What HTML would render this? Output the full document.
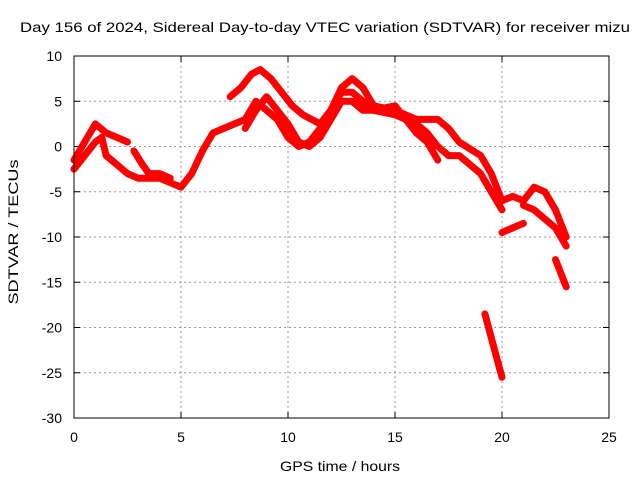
<!DOCTYPE html>
<html><head><meta charset="utf-8"><style>
html,body{margin:0;padding:0;background:#fff}
svg{display:block;font-family:"Liberation Sans",sans-serif}
</style></head><body>
<svg id="chart" width="640" height="480" viewBox="0 0 640 480">
<text x="20" y="32" font-size="14" textLength="610" lengthAdjust="spacingAndGlyphs">Day 156 of 2024, Sidereal Day-to-day VTEC variation (SDTVAR) for receiver mizu</text>
<text x="280" y="471" font-size="14" textLength="120" lengthAdjust="spacingAndGlyphs">GPS time / hours</text>
<text transform="translate(18,232) rotate(-90)" text-anchor="middle" font-size="14" textLength="145" lengthAdjust="spacingAndGlyphs">SDTVAR / TECUs</text>
<g id="grid"></g><g id="ticks"></g><g id="series"></g>
<rect x="74" y="56" width="535" height="362" fill="none" stroke="#000" stroke-width="1"/>
</svg>
<script>
const xTicks=[0,5,10,15,20,25];
const yTicks=[10,5,0,-5,-10,-15,-20,-25,-30];
const trackA=[[0,-2.5],[0.5,-1],[1,0.5],[1.3,1],[1.5,-1],[2,-2],[2.5,-3],[3,-3.5],[4,-3.5],[4.5,-4],[5,-4.5],[5.5,-3],[6,-0.5],[6.5,1.5],[7,2],[7.5,2.5],[8,3],[8.5,5],[9,4],[9.5,3],[10,1],[10.5,0],[11,0.5],[11.5,2],[12,4],[12.5,6],[13,6],[13.5,5],[14,4],[15,3.5],[16,2.5],[16.5,1.5],[17,0],[17.5,-1],[18,-1],[18.5,-2],[19,-3],[19.5,-5],[20,-7]];
const trackB=[[0,-1.5],[0.5,0.5],[1,2.5],[1.5,1.5],[2,1],[2.5,0.5]];
const trackC=[[2.8,-0.5],[3.2,-2],[3.5,-3],[4,-3],[4.5,-3.5]];
const trackD=[[7.3,5.5],[7.8,6.5],[8.3,8],[8.7,8.5],[9.2,7.5],[9.7,6],[10.2,4.5],[10.7,3.5],[11.5,2.5],[12,4],[12.5,6.5],[13,7.5],[13.5,6.5],[14,4.5],[15,4],[16,3],[17,3],[17.5,2],[18,0.5],[19,-1],[19.5,-3],[20,-6]];
const trackE=[[8,2],[8.5,4],[9,5.5],[9.5,4],[10,2.5],[10.5,0.5],[11,0],[11.5,1],[12,3],[12.5,5],[13,5],[13.5,4],[14,4],[15,4.5],[15.5,3],[16,1.5],[16.5,0.5],[17,-1.5]];
const trackF=[[20,-9.5],[20.5,-9],[21,-8.5]];
const trackG=[[20,-6],[20.5,-5.5],[21,-6],[21.5,-4.5],[22,-5],[22.5,-7],[23,-10]];
const trackH=[[21,-6.5],[21.5,-7],[22,-8],[22.5,-9],[23,-11]];
const trackI=[[22.5,-12.5],[23,-15.5]];
const trackJ=[[19.2,-18.5],[19.6,-22],[20,-25.5]];
const tracks=[trackA,trackB,trackC,trackD,trackE,trackF,trackG,trackH,trackI,trackJ];
const X0=74,X1=609,Y0=418,Y1=56;
function sx(v){return X0+(v-0)/(25-0)*(X1-X0);}
function sy(v){return Y0-(v+30)/(40)*(Y0-Y1);}
const NS="http://www.w3.org/2000/svg";
const grid=document.getElementById('grid'),ticks=document.getElementById('ticks'),series=document.getElementById('series');
function mk(tag,attrs,parent){const e=document.createElementNS(NS,tag);for(const k in attrs)e.setAttribute(k,attrs[k]);parent.appendChild(e);return e;}
xTicks.forEach(t=>{const x=sx(t);
 if(t>0&&t<25){const g=mk('line',{x1:x,x2:x,y1:Y1,y2:Y0,stroke:'#999','stroke-dasharray':'2,3'},grid);
 
 }
 mk('line',{x1:x,x2:x,y1:Y0,y2:Y0-6,stroke:'#000'},ticks);
 mk('line',{x1:x,x2:x,y1:Y1,y2:Y1+6,stroke:'#000'},ticks);
 const l=mk('text',{x:x,y:Y0+24,'text-anchor':'middle','font-size':'14'},ticks);l.textContent=t;
 
 
});
yTicks.forEach(t=>{const y=sy(t);
 if(t>-30&&t<10){const g=mk('line',{x1:X0,x2:X1,y1:y,y2:y,stroke:'#999','stroke-dasharray':'2,3'},grid);
 
 }
 mk('line',{x1:X0,x2:X0+6,y1:y,y2:y,stroke:'#000'},ticks);
 mk('line',{x1:X1,x2:X1-6,y1:y,y2:y,stroke:'#000'},ticks);
 const l=mk('text',{x:X0-12,y:y+5,'text-anchor':'end','font-size':'14'},ticks);l.textContent=t;
 
 
});
tracks.forEach((tr,i)=>{
 const p=mk('polyline',{points:tr.map(d=>sx(d[0]).toFixed(1)+','+sy(d[1]).toFixed(1)).join(' '),fill:'none',stroke:'#f00','stroke-width':'7','stroke-linejoin':'round','stroke-linecap':'round'},series);
 
 
});
</script>
</body></html>
